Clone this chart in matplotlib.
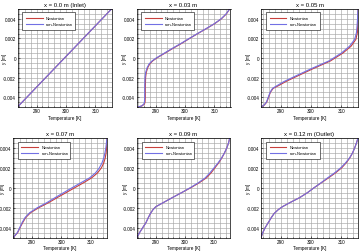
import matplotlib
matplotlib.use('Agg')
import matplotlib.pyplot as plt
from matplotlib.ticker import MultipleLocator, FuncFormatter

plt.rcParams['font.family'] = ['Liberation Sans', 'DejaVu Sans']

# temperature profiles across the channel height
titles = ["x = 0.0 m (Inlet)", "x = 0.03 m", "x = 0.05 m",
          "x = 0.07 m", "x = 0.09 m", "x = 0.12 m (Outlet)"]

y1 = [-0.005, -0.0025, 0.0, 0.0025, 0.005]
t1_newt = [283.5, 291.5, 299.5, 307.5, 315.5]
t1_non = [283.5, 291.5, 299.5, 307.5, 315.5]

y2 = [-0.0050, -0.0049, -0.0047, -0.0045, -0.0040, -0.0030, -0.0020, -0.0015, -0.0010, -0.0006, -0.0003,
      0.0000, 0.0005, 0.0010, 0.0015, 0.0020, 0.0025, 0.0030, 0.0035, 0.0040, 0.0045, 0.0050]
t2_newt = [284.0, 285.3, 286.2, 286.4, 286.5, 286.5, 286.6, 286.8, 287.3, 288.0, 289.0,
           290.4, 293.2, 296.0, 298.9, 301.6, 304.4, 307.3, 310.1, 312.4, 314.1, 315.2]
t2_non = [284.0, 285.2, 286.0, 286.2, 286.3, 286.3, 286.4, 286.6, 287.1, 287.8, 288.8,
          290.2, 293.0, 295.8, 298.7, 301.5, 304.3, 307.2, 310.0, 312.3, 314.0, 315.2]

y3 = [-0.0050, -0.0048, -0.0045, -0.0040, -0.0035, -0.0031, -0.0028, -0.0024, -0.0019, -0.0011,
      -0.0003, 0.0005, 0.0012, 0.0019, 0.0026, 0.0033, 0.0040, 0.0045, 0.0050]
t3_newt = [283.5, 284.6, 285.4, 286.0, 286.6, 287.5, 289.4, 291.7, 295.1, 300.6,
           306.4, 310.5, 313.2, 314.8, 315.3, 315.4, 315.45, 315.5, 315.5]
t3_non = [283.5, 284.5, 285.3, 285.9, 286.5, 287.3, 288.9, 291.1, 294.5, 300.0,
          305.9, 310.0, 312.7, 314.4, 315.0, 315.2, 315.35, 315.4, 315.5]

y4 = [-0.0050, -0.0045, -0.0040, -0.0035, -0.0030, -0.0025, -0.0020, -0.0015, -0.0010, -0.0005, 0.0000,
      0.0005, 0.0010, 0.0015, 0.0020, 0.0025, 0.0030, 0.0035, 0.0040, 0.0045, 0.0050]
t4_newt = [283.6, 285.1, 285.9, 286.8, 287.8, 289.5, 292.3, 295.6, 298.5, 301.5, 304.5,
           307.5, 310.3, 312.3, 313.6, 314.4, 314.9, 315.2, 315.35, 315.45, 315.5]
t4_non = [283.6, 285.0, 285.8, 286.6, 287.6, 289.2, 291.8, 295.0, 297.8, 300.7, 303.6,
          306.6, 309.6, 311.6, 312.9, 313.8, 314.4, 314.8, 315.1, 315.3, 315.5]

y5 = [-0.0050, -0.0045, -0.0040, -0.0035, -0.0030, -0.0026, -0.0022, -0.0019, -0.0015, -0.0010, -0.0005,
      0.0000, 0.0005, 0.0010, 0.0015, 0.0020, 0.0025, 0.0030, 0.0035, 0.0040, 0.0045, 0.0050]
t5_newt = [283.5, 284.4, 285.5, 286.6, 287.4, 288.1, 289.0, 290.0, 292.5, 295.6, 298.8,
           302.0, 304.9, 307.4, 309.0, 310.3, 311.6, 312.7, 313.6, 314.4, 315.0, 315.4]
t5_non = [283.5, 284.4, 285.5, 286.6, 287.4, 288.1, 289.0, 290.0, 292.5, 295.6, 298.8,
          301.8, 304.6, 307.0, 308.6, 310.0, 311.4, 312.6, 313.6, 314.4, 315.0, 315.4]

y6 = [-0.0050, -0.0045, -0.0040, -0.0035, -0.0030, -0.0026, -0.0022, -0.0019, -0.0015, -0.0010, -0.0005,
      0.0000, 0.0005, 0.0010, 0.0015, 0.0020, 0.0025, 0.0030, 0.0035, 0.0040, 0.0045, 0.0050]
t6_newt = [283.5, 284.1, 284.9, 285.9, 286.9, 287.8, 289.2, 290.6, 293.0, 296.2, 298.8,
           301.0, 303.4, 305.8, 308.1, 310.1, 311.6, 312.8, 313.7, 314.4, 315.0, 315.5]
t6_non = [283.5, 284.1, 284.9, 285.9, 286.9, 287.8, 289.2, 290.6, 293.0, 296.2, 298.8,
          301.0, 303.3, 305.5, 307.8, 309.8, 311.4, 312.7, 313.7, 314.4, 315.0, 315.5]

profiles = [(y1, t1_newt, t1_non), (y2, t2_newt, t2_non), (y3, t3_newt, t3_non),
            (y4, t4_newt, t4_non), (y5, t5_newt, t5_non), (y6, t6_newt, t6_non)]

# axes boxes in pixels: left, top, width, height
W, H = 360, 253
boxes = [(17.5, 10, 94, 98), (136.5, 10, 94, 98), (261, 10, 97, 98),
         (13, 139, 94, 99.5), (137, 139, 93, 99.5), (261, 139, 97, 99.5)]
ylabel_x = [-0.115, -0.1, -0.1, -0.08, -0.1, -0.1]

RED = '#c8403c'
BLUE = '#7270e4'


def y_fmt(v, pos):
    if abs(v) < 1e-9:
        return '0'
    return f'{v:.3f}'


def draw_panel(fig, box, title, y, t_newt, t_non, lab_x):
    left, top, w, h = box
    ax = fig.add_axes([left / W, 1 - (top + h) / H, w / W, h / H])
    ax.plot(t_newt, y, color=RED, lw=0.8, label='Newtonian')
    ax.plot(t_non, y, color=BLUE, lw=0.8, label='non-Newtonian')

    ax.set_xlim(283.5, 315.5)
    ax.set_ylim(-0.005, 0.005)
    ax.xaxis.set_major_locator(MultipleLocator(10))
    ax.xaxis.set_minor_locator(MultipleLocator(2))
    ax.yaxis.set_major_locator(MultipleLocator(0.002))
    ax.yaxis.set_minor_locator(MultipleLocator(0.0005))
    ax.yaxis.set_major_formatter(FuncFormatter(y_fmt))
    ax.grid(True, which='both', color='#a6a6a6', lw=0.45)
    ax.set_axisbelow(True)

    ax.tick_params(which='both', labelsize=3.3, length=1.2, width=0.4, pad=1, direction='in')
    ax.tick_params(which='minor', length=0.7)
    for s in ax.spines.values():
        s.set_linewidth(0.5)

    ax.set_title(title, fontsize=4.3, pad=2)
    ax.set_xlabel('Temperature [K]', fontsize=3.3, labelpad=1)
    ax.set_ylabel('y [m]', fontsize=3.3)
    ax.yaxis.set_label_coords(lab_x, 0.5)

    leg = ax.legend(loc='upper left', bbox_to_anchor=(0.03, 0.985, 0.6, 0), mode='expand',
                    fontsize=2.9, handlelength=4.2, borderpad=0.9, labelspacing=0.5,
                    fancybox=False, framealpha=1)
    leg.get_frame().set_edgecolor('black')
    leg.get_frame().set_linewidth(0.4)
    return ax


fig = plt.figure(figsize=(W / 100, H / 100), dpi=100)
for box, title, (y, tn, tnn), lx in zip(boxes, titles, profiles, ylabel_x):
    draw_panel(fig, box, title, y, tn, tnn, lx)

fig.savefig('out.png', dpi=100)
